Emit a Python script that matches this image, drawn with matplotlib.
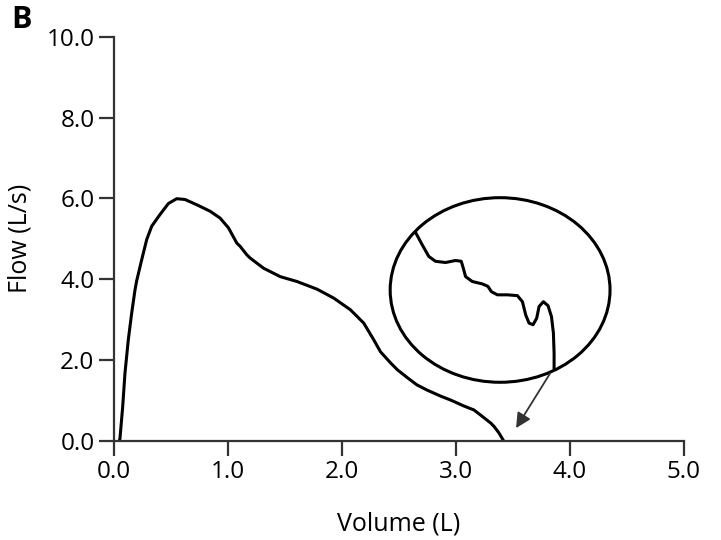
import matplotlib.pyplot as plt
from matplotlib.patches import Ellipse

plt.rcParams['font.family'] = ['Open Sans', 'DejaVu Sans']

# main flow-volume curve
volume = [0.048, 0.053, 0.077, 0.097, 0.126, 0.156, 0.185, 0.200, 0.244,
          0.288, 0.332, 0.405, 0.478, 0.551, 0.624, 0.727, 0.844, 0.932,
          1.005, 1.079, 1.108, 1.167, 1.196, 1.313, 1.460, 1.607, 1.783,
          1.929, 2.076, 2.193, 2.28, 2.34, 2.43, 2.49, 2.58, 2.66, 2.75,
          2.87, 2.96, 3.07, 3.16, 3.22, 3.31, 3.34, 3.38, 3.42]
flow = [0.00, 0.05, 0.84, 1.67, 2.49, 3.16, 3.73, 3.96, 4.48,
        4.98, 5.31, 5.60, 5.87, 5.99, 5.97, 5.84, 5.68, 5.51,
        5.27, 4.89, 4.81, 4.60, 4.52, 4.27, 4.06, 3.94, 3.75,
        3.53, 3.24, 2.91, 2.50, 2.20, 1.92, 1.75, 1.55, 1.38, 1.25,
        1.10, 1.00, 0.86, 0.76, 0.63, 0.43, 0.34, 0.19, 0.00]

# magnified tail drawn inside the circle
zoom_x = [2.647, 2.706, 2.764, 2.823, 2.911, 2.999, 3.049, 3.067, 3.087,
          3.146, 3.234, 3.283, 3.313, 3.366, 3.454, 3.542, 3.586, 3.615,
          3.644, 3.679, 3.711, 3.732, 3.770, 3.811, 3.841, 3.858, 3.864,
          3.864]
zoom_y = [5.16, 4.85, 4.56, 4.44, 4.41, 4.46, 4.44, 4.27, 4.06,
          3.94, 3.88, 3.82, 3.69, 3.61, 3.61, 3.59, 3.44, 3.11,
          2.91, 2.87, 3.03, 3.32, 3.44, 3.34, 3.07, 2.66, 2.16,
          1.79]

circle_center = (3.39, 3.73)
circle_w, circle_h = 1.93, 4.57
arrow_from = (3.83, 1.67)
arrow_to = (3.53, 0.31)

xticks = [0, 1, 2, 3, 4, 5]
yticks = [0, 2, 4, 6, 8, 10]

fig = plt.figure(figsize=(7.21, 5.40), dpi=100)
ax = fig.add_axes([0.158, 0.184, 0.79, 0.748])

ax.plot(volume, flow, color='black', lw=2.2, solid_joinstyle='round',
        solid_capstyle='butt')
ax.plot(zoom_x, zoom_y, color='black', lw=2.2, solid_joinstyle='round')
ax.add_patch(Ellipse(circle_center, circle_w, circle_h, fill=False,
                     edgecolor='black', lw=2.2))
ax.annotate('', xy=arrow_to, xytext=arrow_from,
            arrowprops=dict(arrowstyle='-|>,head_length=0.9,head_width=0.45',
                            color='#333333', lw=1.3, shrinkA=0, shrinkB=0))

ax.set_xlim(0, 5)
ax.set_ylim(0, 10)
ax.set_xticks(xticks)
ax.set_yticks(yticks)
ax.set_xticklabels(['%.1f' % v for v in xticks])
ax.set_yticklabels(['%.1f' % v for v in yticks])
ax.tick_params(length=11, width=1.6, color='#333333', labelsize=17.5, pad=3)

for s in ['top', 'right']:
    ax.spines[s].set_visible(False)
for s in ['left', 'bottom']:
    ax.spines[s].set_linewidth(1.6)
    ax.spines[s].set_color('#333333')

ax.set_xlabel('Volume (L)', fontsize=18, labelpad=20)
ax.set_ylabel('Flow (L/s)', fontsize=18, labelpad=10)

fig.text(0.016, 0.948, 'B', fontsize=22, fontweight='bold')

fig.savefig('out.png', dpi=100)
